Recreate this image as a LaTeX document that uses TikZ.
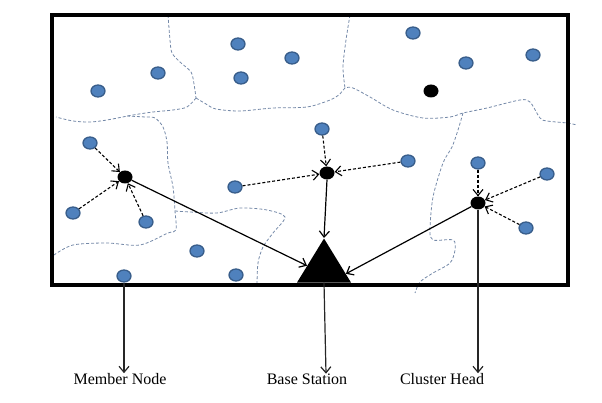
\documentclass[tikz,border=0pt]{standalone}
\usepackage{fontspec}
\setmainfont{Liberation Serif}
\usetikzlibrary{arrows.meta,shapes.geometric,calc}
\definecolor{memfill}{HTML}{4F81BD}
\definecolor{memdraw}{HTML}{385D8A}
\definecolor{bound}{HTML}{7489A8}
\begin{document}
\begin{tikzpicture}[x=1pt,y=-1pt,
  member/.style={ellipse,fill=memfill,draw=memdraw,line width=1.3pt,minimum width=14pt,minimum height=12pt,inner sep=0},
  head/.style={ellipse,fill=black,minimum width=15pt,minimum height=13pt,inner sep=0},
  joinarrow/.style={dash pattern=on 3pt off 2pt,line width=1.1pt,-{Straight Barb[length=6pt,width=10pt]}},
  linkarrow/.style={line width=1.2pt,-{Straight Barb[length=6pt,width=10pt]}},
  labelarrow/.style={line width=1.2pt,black!85,-{Straight Barb[length=6pt,width=10pt]}},
  boundary/.style={bound,line width=0.8pt,dash pattern=on 3pt off 2pt},
  lbl/.style={font=\fontsize{16}{19}\selectfont,inner sep=0,anchor=base}]
\useasboundingbox (0,0) rectangle (602,403);
% cluster boundaries
\draw[boundary] plot[smooth,tension=0.5] coordinates {(168,15) (170,40) (172,53) (180,62) (191,72) (194,84) (196,98)};
\draw[boundary] plot[smooth,tension=0.5] coordinates {(196,98) (206,104) (216,109) (240,111) (273,108) (307,107) (330,100) (340,94) (345,88) (353,88) (370,97) (393,110) (423,118) (450,117) (463,113) (487,108) (520,100) (530,102) (540,118) (547,121) (567,123) (577,125)};
\draw[boundary] plot[smooth,tension=0.5] coordinates {(350,15) (346,40) (343,67) (345,88)};
\draw[boundary] plot[smooth,tension=0.5] coordinates {(196,98) (187,107) (173,110) (153,112) (133,115) (107,120) (90,122) (73,121) (56,117)};
\draw[boundary] plot[smooth,tension=0.5] coordinates {(127,116) (145,117) (155,118) (163,127) (167,142) (168,163) (173,187) (175,211) (176,230) (168,233) (140,245) (107,243) (73,245) (54,255)};
\draw[boundary] plot[smooth,tension=0.5] coordinates {(175,211) (190,212) (217,213) (240,208) (267,210) (285,217) (273,233) (263,247) (258,263) (257,285)};
\draw[boundary] plot[smooth,tension=0.5] coordinates {(463,113) (458,130) (452,147) (443,163) (433,197) (430,230) (433,240) (453,240) (455,250) (450,263) (433,273) (420,282) (415,293)};
% frame
\draw[line width=3.2pt] (52,15) rectangle (568,285);
% member nodes
\node[member] (m1) at (98,91) {};
\node[member] (m2) at (158,73) {};
\node[member] (m3) at (238,44) {};
\node[member] (m4) at (292,58) {};
\node[member] (m5) at (241,78) {};
\node[member] (m6) at (413,33) {};
\node[member] (m7) at (466,63) {};
\node[member] (m8) at (533,55) {};
\node[member] (m9) at (90,143) {};
\node[member] (m10) at (322,129) {};
\node[member] (m11) at (408,161) {};
\node[member] (m12) at (478,163) {};
\node[member] (m13) at (547,174) {};
\node[member] (m14) at (526,228) {};
\node[member] (m15) at (235,187) {};
\node[member] (m16) at (73,213) {};
\node[member] (m17) at (146,222) {};
\node[member] (m18) at (197,251) {};
\node[member] (m19) at (124,276) {};
\node[member] (m20) at (236,275) {};
% cluster heads
\node[head] (h0) at (431,91) {};
\node[head] (ch1) at (125,177) {};
\node[head] (ch2) at (327,173) {};
\node[head] (ch3) at (478,203) {};
% base station
\node[isosceles triangle,isosceles triangle stretches,shape border rotate=90,fill=black,inner sep=0,minimum width=54pt,minimum height=44pt,anchor=apex] (bs) at (324,238) {};
% member to head
\draw[joinarrow] (m9) -- (ch1);
\draw[joinarrow] (m16) -- (ch1);
\draw[joinarrow] (m17) -- (ch1);
\draw[joinarrow] (m10) -- (ch2);
\draw[joinarrow] (m15) -- (ch2);
\draw[joinarrow] (m11) -- (ch2);
\draw[joinarrow] (m12) -- (ch3);
\draw[joinarrow] (m13) -- (ch3);
\draw[joinarrow] (m14) -- (ch3);
% head to base station
\draw[linkarrow] (ch1) -- ($(bs.apex)!0.62!(bs.left corner)$);
\draw[linkarrow] (ch2.south) -- (bs.apex);
\draw[linkarrow] (ch3) -- ($(bs.apex)!0.8!(bs.right corner)$);
% labels
\node[lbl] (lm) at (120,384.5) {Member Node};
\node[lbl] (lb) at (307,384.5) {Base Station};
\node[lbl] (lc) at (442,384.5) {Cluster Head};
\draw[labelarrow] (m19.south) -- (m19.south |- lm.north);
\draw[labelarrow] (bs.lower side) -- ($(bs.lower side |- lb.north)+(2,0)$);
\draw[labelarrow] (ch3.south) -- (ch3.south |- lc.north);
\end{tikzpicture}
\end{document}
